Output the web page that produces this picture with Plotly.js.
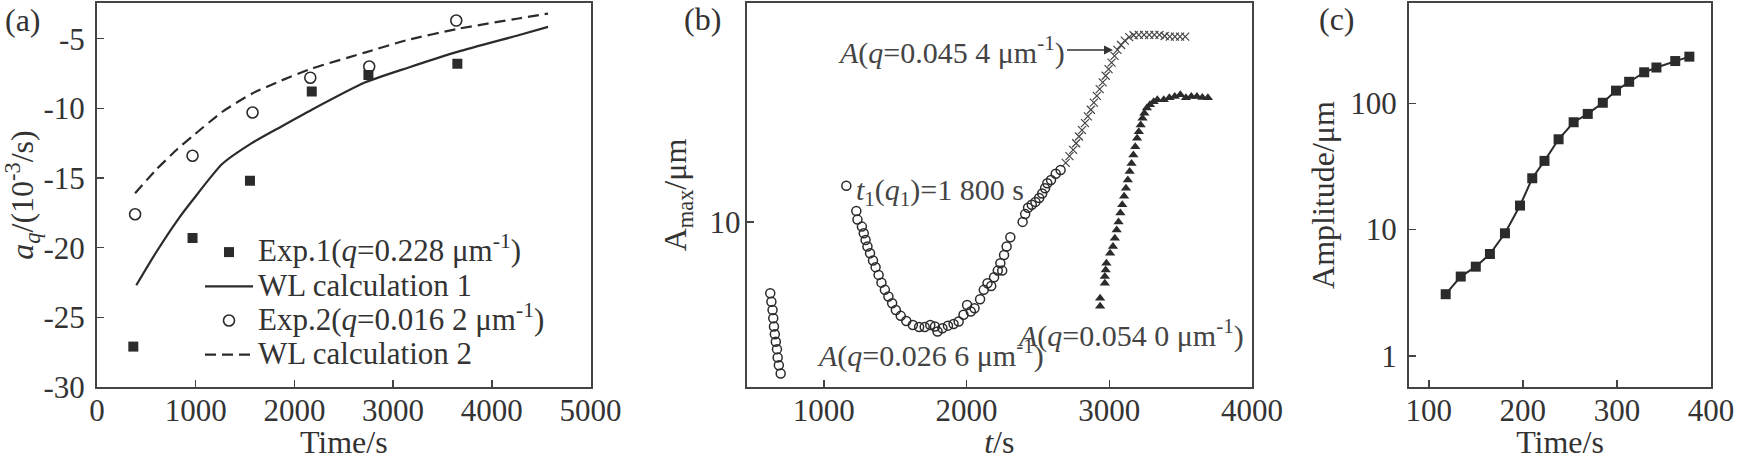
<!DOCTYPE html>
<html>
<head>
<meta charset="utf-8">
<script src="https://cdn.plot.ly/plotly-3.0.1.min.js"></script>
<style>html,body{margin:0;padding:0;background:#fff;}#chart{width:1737px;height:460px;}</style>
</head>
<body>
<div id="chart"></div>
<script>
// ---------- Panel (a) ----------
const exp1T = [368, 968, 1550, 2176, 2750, 3651];
const exp1A = [-27.1, -19.3, -15.2, -8.8, -7.6, -6.8];
const exp2T = [386, 968, 1576, 2161, 2758, 3640];
const exp2A = [-17.6, -13.4, -10.3, -7.8, -7.0, -3.7];
const wl1T = [398, 593, 818, 968, 1268, 1568, 1869, 2176, 2713, 3144, 3651, 4270, 4570];
const wl1A = [-22.7, -20.4, -18.0, -16.6, -14.0, -12.5, -11.3, -10.1, -8.15, -7.1, -5.95, -4.75, -4.15];
const wl2T = [386, 593, 818, 968, 1268, 1568, 1869, 2176, 2713, 3144, 3651, 4270, 4570];
const wl2A = [-16.1, -14.45, -12.9, -12.0, -10.26, -8.95, -8.0, -7.15, -6.0, -5.1, -4.3, -3.55, -3.2];
const aXTicks = [0, 1000, 2000, 3000, 4000, 5000];
const aYTicks = [-30, -25, -20, -15, -10, -5];
const aYLabels = ['-30', '-25', '-20', '-15', '-10', '-5'];

// ---------- Panel (b) ----------
const circT = [625, 633, 641, 646, 651, 657, 664, 672, 677, 685, 698,
  1158,
  1228, 1236, 1267, 1280, 1293, 1306, 1324, 1345, 1363, 1384, 1404, 1428, 1453, 1479, 1505, 1539, 1578, 1624, 1668, 1707,
  1746, 1779, 1797, 1831, 1870, 1909, 1945, 1979, 2004, 2030, 2056, 2095, 2121, 2147, 2173, 2193, 2219, 2237, 2250, 2263,
  2281, 2307, 2393, 2411, 2431, 2457, 2483, 2509, 2530, 2550, 2566, 2592, 2625, 2659];
const circA = [5.38, 5.00, 4.65, 4.33, 4.03, 3.77, 3.53, 3.31, 3.08, 2.88, 2.68,
  13.7,
  11.0, 10.2, 9.6, 9.06, 8.55, 8.07, 7.62, 7.15, 6.75, 6.31, 5.90, 5.54, 5.23, 4.93, 4.65, 4.42, 4.23, 4.08, 4.01, 4.01,
  4.08, 4.03, 3.86, 3.97, 4.06, 4.12, 4.21, 4.46, 4.86, 4.59, 4.72, 5.11, 5.54, 5.87, 5.73, 6.18, 6.55, 6.98, 6.55, 7.50,
  8.07, 8.75, 10.0, 10.7, 11.3, 11.6, 11.9, 12.3, 12.8, 13.4, 14.0, 14.4, 15.2, 15.7];
const crossT = [2695, 2721, 2747, 2768, 2788, 2809, 2830, 2850, 2871, 2892, 2913, 2933, 2954, 2975, 2995, 3016, 3037, 3057,
  3083, 3109, 3140, 3171, 3207, 3244, 3280, 3316, 3352, 3388, 3424, 3460, 3496, 3532];
const crossA = [16.7, 17.7, 18.7, 19.8, 21.0, 22.2, 23.6, 25.0, 26.5, 28.2, 29.9, 31.7, 33.6, 35.6, 37.7, 39.9, 42.3, 44.6,
  46.5, 48.3, 49.8, 50.6, 50.8, 50.8, 50.8, 50.8, 50.8, 50.3, 50.0, 50.0, 50.0, 50.0];
const triT = [2936, 2936, 2969, 2969, 2975, 2980, 3006, 3026, 3039, 3052, 3065, 3078, 3091, 3104, 3117, 3130, 3143, 3156,
  3169, 3182, 3195, 3207, 3220, 3233, 3246, 3264, 3285, 3311, 3337, 3382, 3421, 3459, 3498, 3537, 3575, 3614, 3652, 3691];
const triA = [4.80, 5.15, 5.87, 6.22, 6.59, 6.98, 7.62, 8.07, 8.67, 9.33, 10.0, 10.8, 11.6, 12.5, 13.4, 14.4, 15.5, 16.6,
  17.9, 19.2, 20.7, 21.9, 23.2, 24.6, 25.7, 26.9, 27.7, 28.4, 28.9, 28.9, 29.4, 29.7, 30.2, 29.4, 29.7, 29.7, 29.5, 29.4];
const bXTicks = [1000, 2000, 3000, 4000];
const bYTicks = [10];

// ---------- Panel (c) ----------
const cT = [118, 134, 150, 165, 181, 197, 210, 223, 238, 254, 269, 285, 299, 313, 329, 342, 362, 377];
const cA = [3.08, 4.25, 5.09, 6.41, 9.35, 15.5, 25.5, 35.0, 51.9, 70.8, 82.4, 101, 126, 148, 176, 192, 216, 234];
const cXTicks = [100, 200, 300, 400];
const cYTicks = [1, 10, 100];

// ---------- layout helpers ----------
const W = 1737, H = 460;
const M = {l: 97, r: 26, t: 3, b: 73};
const PW = W - M.l - M.r, PH = H - M.t - M.b;
const px = x => (x - M.l) / PW;
const py = y => (H - M.b - y) / PH;

const FONT = 'Liberation Serif, Times New Roman, serif';
const INK = '#2b2b2b';
const TXT = '#333';
const big = s => '<span style="font-size:31px">' + s + '</span>';

function axisBase(extra) {
  return Object.assign({
    showline: true, mirror: true, linecolor: '#444', linewidth: 2,
    ticks: 'inside', ticklen: 7, tickwidth: 1.5, tickcolor: '#444',
    showgrid: false, zeroline: false,
    tickfont: {family: FONT, size: 31, color: TXT}
  }, extra);
}
const tfont = {family: FONT, size: 32, color: TXT};

const traces = [
  {x: exp1T, y: exp1A, xaxis: 'x', yaxis: 'y', mode: 'markers', type: 'scatter',
   name: big('Exp.1(<i>q</i>=0.228 μm<sup>-1</sup>)'),
   marker: {symbol: 'square', size: 10, color: INK}},
  {x: wl1T, y: wl1A, xaxis: 'x', yaxis: 'y', mode: 'lines', type: 'scatter',
   name: big('WL calculation 1'),
   line: {color: INK, width: 2.2, shape: 'spline', smoothing: 0.6}},
  {x: exp2T, y: exp2A, xaxis: 'x', yaxis: 'y', mode: 'markers', type: 'scatter',
   name: big('Exp.2(<i>q</i>=0.016 2 μm<sup>-1</sup>)'),
   marker: {symbol: 'circle-open', size: 11, color: INK, line: {width: 1.6, color: INK}}},
  {x: wl2T, y: wl2A, xaxis: 'x', yaxis: 'y', mode: 'lines', type: 'scatter',
   name: big('WL calculation 2'),
   line: {color: INK, width: 2.2, dash: '11px,6px', shape: 'spline', smoothing: 0.6}},

  {x: circT, y: circA, xaxis: 'x2', yaxis: 'y2', mode: 'markers', type: 'scatter', showlegend: false,
   marker: {symbol: 'circle-open', size: 9, color: INK, line: {width: 1.5, color: INK}}},
  {x: crossT, y: crossA, xaxis: 'x2', yaxis: 'y2', mode: 'markers', type: 'scatter', showlegend: false,
   marker: {symbol: 'x-thin-open', size: 8, color: '#444', line: {width: 1.2, color: '#444'}}},
  {x: triT, y: triA, xaxis: 'x2', yaxis: 'y2', mode: 'markers', type: 'scatter', showlegend: false,
   marker: {symbol: 'triangle-up', size: 9, color: INK}},

  {x: cT, y: cA, xaxis: 'x3', yaxis: 'y3', mode: 'lines+markers', type: 'scatter', showlegend: false,
   line: {color: INK, width: 2}, marker: {symbol: 'square', size: 10, color: INK}}
];

const annFont = {family: FONT, size: 30, color: '#444'};
const layout = {
  width: W, height: H,
  margin: M,
  paper_bgcolor: '#fff', plot_bgcolor: '#fff',
  font: {family: FONT, color: TXT},
  xaxis: axisBase({domain: [0, px(590.5)], range: [0, 5000], tickvals: aXTicks, anchor: 'y', ticklabelstandoff: -5,
    title: {text: 'Time/s', standoff: 20, font: tfont}}),
  yaxis: axisBase({domain: [0, 1], range: [-30, -2.44], tickvals: aYTicks, ticktext: aYLabels, anchor: 'x', ticklabelstandoff: 4,
    title: {text: '<i>a</i><sub><i>q</i></sub>/(10<sup>-3</sup>/s)', standoff: 9, font: tfont}}),
  xaxis2: axisBase({domain: [px(746.7), px(1252)], range: [460, 4000], tickvals: bXTicks, anchor: 'y2', ticklabelstandoff: -5,
    title: {text: '<i>t</i>/s', standoff: 20, font: tfont}}),
  yaxis2: axisBase({domain: [0, 1], type: 'log', range: [0.377, 1.826], tickvals: bYTicks, ticktext: ['10'], anchor: 'x2', ticklabelstandoff: -2,
    title: {text: 'A<sub>max</sub>/μm', standoff: 13, font: tfont}}),
  xaxis3: axisBase({domain: [px(1409), 1], range: [79, 400], tickvals: cXTicks, anchor: 'y3', ticklabelstandoff: -5,
    title: {text: 'Time/s', standoff: 20, font: tfont}}),
  yaxis3: axisBase({domain: [0, 1], type: 'log', range: [-0.246, 2.794], tickvals: cYTicks, ticktext: ['1', '10', '100'], anchor: 'x3', ticklabelstandoff: 4,
    title: {text: 'Amplitude/μm', standoff: 6, font: tfont}}),
  legend: {x: px(200), y: py(230), xanchor: 'left', yanchor: 'top', xref: 'paper', yref: 'paper',
    bgcolor: 'rgba(0,0,0,0)', borderwidth: 0, itemwidth: 48,
    font: {family: FONT, size: 24, color: TXT}, tracegroupgap: 0},
  showlegend: true,
  annotations: [
    {text: '(a)', x: px(23), y: py(20), xref: 'paper', yref: 'paper', xanchor: 'center', yanchor: 'middle', showarrow: false, font: tfont},
    {text: '(b)', x: px(702), y: py(19), xref: 'paper', yref: 'paper', xanchor: 'center', yanchor: 'middle', showarrow: false, font: tfont},
    {text: '(c)', x: px(1337), y: py(19), xref: 'paper', yref: 'paper', xanchor: 'center', yanchor: 'middle', showarrow: false, font: tfont},
    {text: '<i>A</i>(<i>q</i>=0.045 4 μm<sup>-1</sup>)', x: px(1113), y: py(50), xref: 'paper', yref: 'paper',
     showarrow: true, ax: -46, ay: 0, xanchor: 'right', yanchor: 'middle', arrowhead: 2, arrowsize: 1.2, arrowwidth: 1.5, arrowcolor: '#333',
     standoff: 0, startstandoff: 0, font: annFont},
    {text: '<i>t</i><sub>1</sub>(<i>q</i><sub>1</sub>)=1 800 s', x: px(854), y: py(192), xref: 'paper', yref: 'paper',
     showarrow: false, xanchor: 'left', yanchor: 'middle', font: annFont},
    {text: '<i>A</i>(<i>q</i>=0.026 6 μm<sup>-1</sup>)', x: px(815), y: py(353), xref: 'paper', yref: 'paper',
     showarrow: false, xanchor: 'left', yanchor: 'middle', font: annFont},
    {text: '<i>A</i>(<i>q</i>=0.054 0 μm<sup>-1</sup>)', x: px(1015), y: py(333), xref: 'paper', yref: 'paper',
     showarrow: false, xanchor: 'left', yanchor: 'middle', font: annFont}
  ]
};

Plotly.newPlot('chart', traces, layout, {staticPlot: true, displayModeBar: false});
</script>
</body>
</html>
